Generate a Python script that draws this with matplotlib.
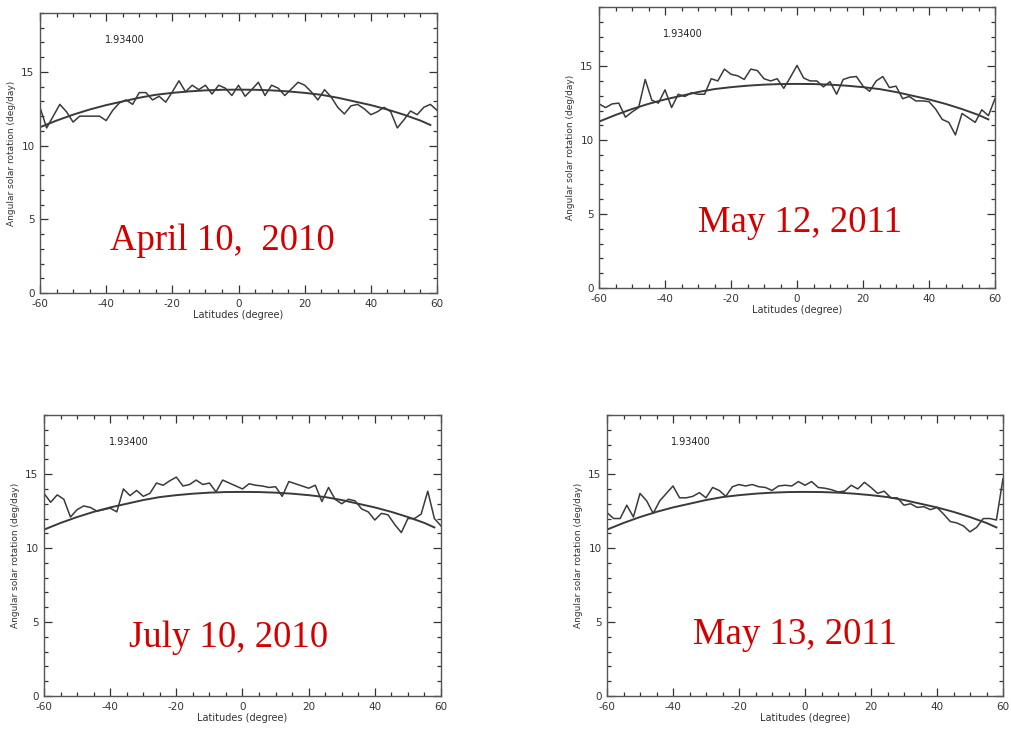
import numpy as np
import matplotlib
matplotlib.use("Agg")
import matplotlib.pyplot as plt
from matplotlib.ticker import MultipleLocator

plt.rcParams['axes.unicode_minus'] = False

# latitudes of the measured points (deg)
lat = np.arange(-60, 61, 2)

# angular rotation rate (deg/day)
rot_apr10_2010 = [12.6, 11.2, 12.0, 12.8, 12.3, 11.6, 12.0, 12.0, 12.0, 12.0, 11.7,
                  12.4, 12.9, 13.1, 12.8, 13.6, 13.6, 13.1, 13.35, 12.95, 13.65,
                  14.4, 13.65, 14.1, 13.8, 14.1, 13.5, 14.1, 13.9, 13.4, 14.1,
                  13.35, 13.8, 14.3, 13.4, 14.1, 13.9, 13.4, 13.85, 14.3, 14.1,
                  13.65, 13.1, 13.8, 13.3, 12.6, 12.15, 12.7, 12.8, 12.5, 12.1,
                  12.3, 12.6, 12.3, 11.2, 11.75, 12.35, 12.1, 12.6, 12.8, 12.4]
rot_may12_2011 = [12.45, 12.2, 12.45, 12.5, 11.55, 11.9, 12.2, 14.1, 12.7, 12.5, 13.4,
                  12.2, 13.1, 12.95, 13.2, 13.1, 13.1, 14.15, 14.0, 14.8, 14.45,
                  14.35, 14.1, 14.8, 14.7, 14.15, 14.0, 14.15, 13.5, 14.25, 15.05,
                  14.2, 14.0, 14.0, 13.6, 13.95, 13.1, 14.1, 14.25, 14.3, 13.65,
                  13.3, 14.0, 14.3, 13.55, 13.65, 12.8, 12.95, 12.65, 12.65, 12.6,
                  12.1, 11.4, 11.2, 10.35, 11.8, 11.5, 11.2, 12.05, 11.65, 12.8]
rot_jul10_2010 = [13.7, 13.1, 13.6, 13.3, 12.1, 12.6, 12.85, 12.75, 12.5, 12.6, 12.7,
                  12.45, 14.0, 13.55, 13.9, 13.5, 13.7, 14.4, 14.25, 14.55, 14.8,
                  14.2, 14.3, 14.6, 14.3, 14.4, 13.8, 14.6, 14.4, 14.2, 14.0,
                  14.35, 14.25, 14.2, 14.1, 14.15, 13.5, 14.5, 14.35, 14.2, 14.05,
                  14.25, 13.15, 14.1, 13.3, 13.0, 13.3, 13.2, 12.65, 12.45, 11.9,
                  12.35, 12.25, 11.6, 11.05, 12.0, 12.0, 12.3, 13.85, 12.0, 11.5]
rot_may13_2011 = [12.4, 12.0, 12.0, 12.9, 12.1, 13.7, 13.2, 12.35, 13.2, 13.7, 14.2,
                  13.4, 13.4, 13.5, 13.75, 13.4, 14.1, 13.9, 13.5, 14.15, 14.3,
                  14.2, 14.3, 14.15, 14.1, 13.9, 14.2, 14.25, 14.2, 14.5, 14.25,
                  14.5, 14.1, 14.05, 13.95, 13.8, 13.85, 14.25, 14.0, 14.45, 14.1,
                  13.7, 13.85, 13.4, 13.4, 12.9, 13.0, 12.75, 12.8, 12.6, 12.75,
                  12.3, 11.8, 11.7, 11.5, 11.1, 11.4, 12.0, 12.0, 11.9, 14.7]

# fitted profile (same in every panel)
fit_lat = [-60, -55, -50, -45, -40, -35, -30, -25, -20, -15, -10, -5, 0,
           5, 10, 15, 20, 25, 30, 35, 40, 45, 50, 55, 58]
fit_rot = [11.25, 11.7, 12.1, 12.45, 12.75, 13.0, 13.25, 13.45, 13.58, 13.68, 13.75, 13.79, 13.8,
           13.79, 13.75, 13.68, 13.58, 13.45, 13.25, 13.0, 12.75, 12.45, 12.1, 11.7, 11.4]

series = [rot_apr10_2010, rot_may12_2011, rot_jul10_2010, rot_may13_2011]
dates = ["April 10,  2010", "May 12, 2011", "July 10, 2010", "May 13, 2011"]
label_value = "1.93400"

# axes boxes in pixels: left, right, top, bottom
W, H = 1011, 729
boxes = [(40, 437, 13, 293), (599, 995, 7, 288), (44, 441, 415, 696), (607, 1003, 415, 696)]
date_pos = [(-5.0, 2.9), (0.8, 3.8), (-4.1, 3.3), (-3.0, 3.5)]

fig = plt.figure(figsize=(W / 100, H / 100), dpi=100)
line_col = '#3a3a3a'

for i in range(4):
    l, r, t, b = boxes[i]
    ax = fig.add_axes([l / W, (H - b) / H, (r - l) / W, (b - t) / H])
    ax.plot(lat, series[i], color=line_col, lw=1.1)
    ax.plot(fit_lat, fit_rot, color=line_col, lw=1.4)
    ax.set_xlim(-60, 60)
    ax.set_ylim(0, 19)
    ax.xaxis.set_major_locator(MultipleLocator(20))
    ax.xaxis.set_minor_locator(MultipleLocator(5))
    ax.yaxis.set_major_locator(MultipleLocator(5))
    ax.yaxis.set_minor_locator(MultipleLocator(1))
    ax.tick_params(which='both', direction='in', top=True, right=True,
                   labelsize=7.5, colors='#333333', width=0.9)
    ax.tick_params(which='major', length=6, pad=4)
    ax.tick_params(which='minor', length=3)
    for s in ax.spines.values():
        s.set_color('#555555')
        s.set_linewidth(1.0)
    ax.set_xlabel("Latitudes (degree)", fontsize=7, color='#333333', labelpad=1)
    ax.set_ylabel("Angular solar rotation (deg/day)", fontsize=6.5, color='#333333', labelpad=4)
    ax.text(-40.5, 17.2, label_value, fontsize=7, color='#222222', va='center', ha='left')
    ax.text(date_pos[i][0], date_pos[i][1], dates[i], fontsize=26.5, color='#d40000',
            family='Liberation Serif', ha='center', va='baseline')

fig.savefig("out.png", dpi=100)
